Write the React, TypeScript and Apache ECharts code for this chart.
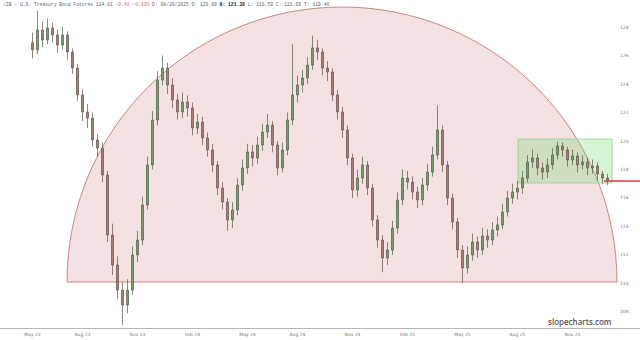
import React, { useEffect, useRef } from "react";
import * as echarts from "echarts";

// Tick labels (bottom axis) and their candle indices
const tickLabels = ["May 23", "Aug 23", "Nov 23", "Feb 24", "May 24", "Aug 24", "Nov 24", "Feb 25", "May 25", "Aug 25", "Nov 25"];
const tickIndex = [0, 10, 21, 32, 43, 53, 64, 75, 86, 97, 108];

const firstOpen = 126.9;
const closes = [
  126.39, 127.79, 127.09, 127.93, 127.44, 126.74, 127.44, 126.25, 125.12, 123.23,
  122.04, 121.61, 120.07, 119.51, 117.61, 113.4, 111.3, 109.54, 108.49, 109.54,
  112.0, 113.05, 115.51, 118.32, 121.47, 124.28, 125.12, 123.93, 122.88, 122.04,
  122.74, 122.32, 120.91, 121.33, 120.21, 119.37, 118.32, 116.7, 115.72, 114.46,
  115.16, 116.91, 118.11, 119.23, 118.81, 119.72, 120.63, 121.12, 119.72, 118.11,
  119.37, 121.47, 123.23, 123.93, 124.42, 125.33, 126.53, 126.25, 125.12, 124.84,
  123.23, 122.04, 120.77, 118.81, 116.56, 117.4, 118.32, 116.7, 114.46, 113.05,
  111.79, 112.35, 113.89, 115.86, 117.4, 117.12, 116.42, 115.86, 116.91, 117.82,
  119.02, 120.77, 118.32, 116.0, 114.32, 112.35, 111.09, 112.0, 112.91, 112.35,
  113.33, 113.05, 113.75, 114.11, 115.02, 116.0, 116.42, 116.7, 117.4, 118.53,
  118.81, 118.11, 117.82, 118.32, 119.02, 119.65, 119.37, 118.67, 118.95, 118.32,
  118.53, 118.11, 118.25, 117.68, 117.4, 117.26,
];
const highs = [
  127.6, 129.15, 128.4, 128.6, 128.3, 127.8, 128.0, 127.7, 126.5, 125.4,
  123.6, 122.6, 122.0, 120.5, 119.9, 117.9, 114.2, 111.9, 110.1, 110.3,
  112.6, 113.7, 116.1, 118.9, 122.1, 124.9, 126.0, 125.5, 124.4, 123.3,
  123.4, 123.2, 122.7, 121.9, 121.7, 120.6, 119.8, 118.6, 117.1, 116.0,
  115.7, 117.4, 118.7, 119.8, 119.7, 120.3, 121.2, 121.9, 121.4, 120.0,
  119.9, 122.0, 126.8, 124.6, 125.0, 125.9, 127.4, 127.1, 126.5, 125.6,
  125.1, 123.6, 122.4, 121.1, 119.1, 118.0, 118.9, 118.6, 117.0, 114.8,
  113.4, 112.9, 114.4, 116.4, 118.0, 117.9, 117.5, 116.8, 117.4, 118.4,
  119.6, 122.5, 121.1, 118.6, 116.3, 114.6, 112.7, 112.6, 113.5, 113.3,
  113.9, 113.8, 114.3, 114.7, 115.6, 116.5, 117.0, 117.2, 117.9, 119.0,
  119.4, 119.1, 118.5, 118.8, 119.5, 119.95, 119.9, 119.6, 119.4, 119.2,
  119.0, 118.8, 118.7, 118.5, 117.9, 117.7,
];
const lows = [
  125.8, 126.1, 126.6, 126.8, 126.9, 126.2, 126.4, 125.7, 124.7, 122.8,
  121.4, 120.9, 119.6, 118.9, 117.1, 112.9, 110.6, 108.9, 107.1, 107.9,
  109.2, 111.5, 112.7, 115.2, 118.0, 121.1, 123.9, 123.3, 122.3, 121.5,
  121.6, 121.7, 120.4, 120.5, 119.7, 118.9, 117.8, 116.2, 115.2, 113.7,
  113.9, 114.8, 116.5, 117.7, 118.2, 118.4, 119.3, 120.2, 119.2, 117.6,
  117.8, 119.0, 121.1, 122.7, 123.4, 124.0, 125.0, 125.7, 124.6, 124.2,
  122.8, 121.5, 120.2, 118.3, 116.0, 116.1, 117.0, 116.2, 114.0, 112.5,
  110.8, 111.3, 112.0, 113.5, 115.5, 116.6, 115.9, 115.3, 115.5, 116.5,
  117.5, 118.7, 117.8, 115.5, 113.8, 111.8, 110.05, 110.7, 111.6, 111.8,
  112.0, 112.5, 112.7, 113.3, 113.8, 114.7, 115.6, 115.9, 116.3, 117.1,
  118.1, 117.6, 117.3, 117.4, 118.0, 118.7, 118.9, 118.2, 118.3, 117.8,
  118.0, 117.6, 117.7, 117.2, 117.0, 116.9,
];

const yMin = 106.877;
const yMax = 129.544;

const titleMain = "/ZB - U.S. Treasury Bond Futures 124.91 ";
const titleChange = "-0.41 -0.33%";
const titleMid = " D: 08/29/2025 O: 120.09 ";
const titleHigh = "H: 121.38";
const titleEnd = " L: 119.59 C: 121.09 T: 119.46";

export default function App() {
  const ref = useRef<HTMLDivElement>(null);
  useEffect(() => {
    document.body.style.margin = "0";
    if (!ref.current) return;
    const chart = echarts.init(ref.current, undefined, { renderer: "svg" });
    const categories = closes.map((_, i) => {
      const k = tickIndex.indexOf(i);
      return k >= 0 ? tickLabels[k] : "c" + i;
    });
    const data = closes.map((c, i) => [i === 0 ? firstOpen : closes[i - 1], c, lows[i], highs[i]]);
    chart.setOption({
      animation: false,
      backgroundColor: "#ffffff",
      grid: { left: 30, right: 30, top: 5, bottom: 12 },
      xAxis: {
        type: "category",
        data: categories,
        boundaryGap: true,
        axisLine: { show: false },
        axisTick: { show: false },
        splitLine: { show: false },
        axisLabel: {
          interval: (index: number) => tickIndex.indexOf(index) >= 0,
          formatter: (v: string) => v,
          fontSize: 4.5,
          color: "#777",
          margin: 4,
          fontFamily: "DejaVu Sans",
        },
      },
      yAxis: {
        type: "value",
        position: "right",
        min: yMin,
        max: yMax,
        splitNumber: 11,
        scale: true,
        axisLine: { show: false },
        axisTick: { show: false },
        splitLine: { show: false },
        axisLabel: {
          showMinLabel: false,
          showMaxLabel: false,
          margin: 10,
          fontSize: 4.5,
          color: "#777",
          fontFamily: "DejaVu Sans",
          formatter: (v: number) => (Math.abs(v - Math.round(v)) < 1e-6 && Math.round(v) % 2 === 0 ? String(Math.round(v)) : ""),
        },
      },
      series: [
        {
          type: "candlestick",
          data,
          z: 5,
          barWidth: 2.5,
          itemStyle: {
            color: "#739f69",
            color0: "#a97d76",
            borderColor: "#4d5f49",
            borderColor0: "#65504c",
            borderWidth: 0.7,
          },
        },
      ],
      graphic: [
        {
          type: "sector",
          z: 1,
          silent: true,
          shape: { cx: 342, cy: 282, r: 275, r0: 0, startAngle: Math.PI, endAngle: Math.PI * 2, clockwise: true },
          style: { fill: "#f4e2e2", stroke: "#c06a66", lineWidth: 0.8 },
        },
        {
          type: "rect",
          z: 2,
          silent: true,
          shape: { x: 518, y: 139, width: 94, height: 44 },
          style: { fill: "rgba(100,210,90,0.25)", stroke: "#8fd38c", lineWidth: 0.8 },
        },
        {
          type: "line",
          z: 8,
          silent: true,
          shape: { x1: 604, y1: 181, x2: 640, y2: 181 },
          style: { stroke: "#d83a3a", lineWidth: 1.3 },
        },
        {
          type: "line",
          z: 3,
          silent: true,
          shape: { x1: 0, y1: 328.5, x2: 640, y2: 328.5 },
          style: { stroke: "#b5b5b5", lineWidth: 1 },
        },
        {
          type: "text",
          z: 10,
          silent: true,
          x: 548,
          y: 317,
          style: {
            text: "slopecharts.com",
            fill: "#555",
            font: "600 8px 'Open Sans'",
          },
        },
        {
          type: "text",
          z: 10,
          silent: true,
          x: 3,
          y: 2,
          style: {
            text: "{a|" + titleMain + "}{r|" + titleChange + "}{a|" + titleMid + "}{b|" + titleHigh + "}{a|" + titleEnd + "}",
            rich: {
              a: { fontSize: 4.7, fontFamily: "Liberation Mono", fill: "#666" },
              r: { fontSize: 4.7, fontFamily: "Liberation Mono", fill: "#e06060" },
              b: { fontSize: 4.7, fontFamily: "Liberation Mono", fill: "#222", fontWeight: "bold" },
            },
          },
        },
      ],
    });
    return () => chart.dispose();
  }, []);
  return <div ref={ref} style={{ position: "fixed", left: 0, top: 0, width: 640, height: 340 }} />;
}
